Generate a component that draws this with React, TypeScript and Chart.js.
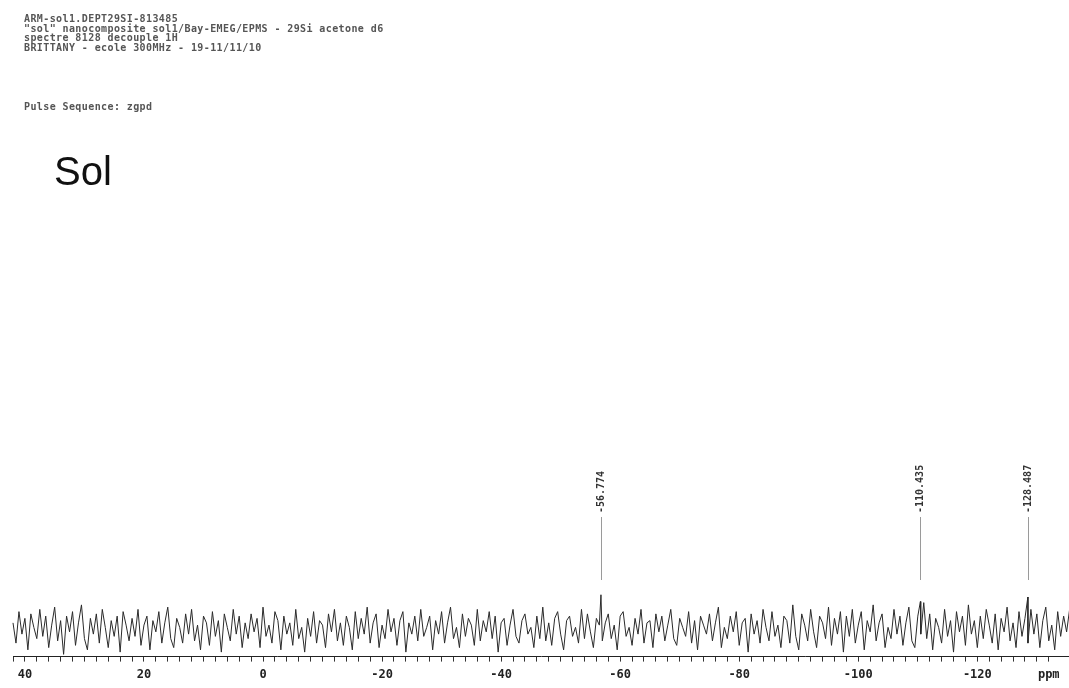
import React, { useEffect, useRef } from "react";
import { Chart, registerables } from "chart.js";

Chart.register(...registerables);

// Spectrum sampling (ppm axis, reversed as in NMR)
const SPECTRUM_START_PPM = 42;
const SPECTRUM_STEP_PPM = 0.5;
const AXIS_MIN_PPM = -135.4;
const AXIS_MAX_PPM = 42;
const AXIS_STEP_PPM = 2;
const LABEL_EVERY_PPM = 20;
const UNIT_TICK_PPM = -132;
const UNIT_LABEL = "ppm";

// Baseline noise (arbitrary intensity units)
const NOISE: number[] = [
  3, -6, 8, -2, 5, -9, 7, 1, -4, 9, -3, 6, -8, 2, 10, -5, 4, -11, 6, -1,
  8, -7, 3, 11, -4, -9, 5, -2, 7, -6, 9, 1, -8, 4, -3, 6, -10, 8, 2, -5,
  5, -3, 9, -7, 2, 6, -9, 4, -1, 8, -6, 3, 10, -4, -8, 5, 1, -6, 7, -2,
  9, -5, 2, -9, 6, 3, -7, 8, -3, 4, -10, 7, 1, -5, 9, -2, 6, -8, 3, -4,
  7, -1, 5, -8, 10, -3, 2, -6, 8, 4, -9, 6, -2, 3, -7, 9, -4, 1, -10, 5,
  -3, 8, -6, 4, 2, -8, 7, -1, 9, -5, 3, -7, 6, 1, -9, 8, -4, 5, -2, 10,
  -6, 3, 7, -8, 2, -4, 9, -1, 5, -7, 4, 8, -10, 3, -2, 6, -5, 9, -3, 1,
  6, -9, 4, -2, 8, -6, 3, 10, -4, 1, -8, 7, -3, 5, 2, -7, 9, -5, 4, -1,
  8, -4, 6, -10, 3, 5, -7, 2, 9, -3, -6, 4, 7, -2, 1, -8, 6, -4, 10, -5,
  3, -7, 5, 8, -2, -9, 4, 6, -3, 1, -6, 9, -4, 7, -1, -8, 5, 2, -5, 3,
  7, -4, 2, -9, 6, 8, -3, 1, -7, 5, -2, 9, -6, 3, 4, -8, 7, -1, 6, -5,
  2, 9, -4, -7, 5, 1, -3, 8, -6, 4, -9, 6, 2, -2, 7, -5, 3, 10, -8, 1,
  -4, 6, -1, 8, -7, 3, 5, -10, 7, -2, 4, -6, 9, 1, -5, 8, -3, 2, -8, 6,
  4, -6, 11, -3, -9, 7, 2, -5, 9, -1, -8, 6, 3, -4, 10, -7, 5, -2, 8, -10,
  6, -3, 9, -6, 2, 8, -9, 4, -1, 11, -5, 3, 7, -8, 1, -4, 9, -2, 6, -7,
  3, 10, -5, -8, 6, -2, 12, -4, 7, -9, 5, 1, -6, 9, -3, 4, -10, 8, -1, 6,
  -7, 11, -2, 4, -8, 6, -4, 9, 2, -6, 7, -9, 5, -1, 10, -5, 3, -8, 8, -3,
  5, -6, 9, -2, 7, -8, 4, 10, -5, 2, -9, 8, -3, 6, -1, 9, -7, 3, -4, 7,
];

// Picked peaks
const PEAK_PPM = [-56.774, -110.435, -128.487];
const PEAK_HEIGHT = [15.5, 12.5, 14.5];
const PEAK_LABELS = ["-56.774", "-110.435", "-128.487"];

const HEADER_LINES = [
  "ARM-sol1.DEPT29SI-813485",
  "\"sol\" nanocomposite sol1/Bay-EMEG/EPMS - 29Si acetone d6",
  "spectre 8128 decouple 1H",
  "BRITTANY - ecole 300MHz - 19-11/11/10",
];
const PULSE_LINE = "Pulse Sequence: zgpd";
const SAMPLE_TITLE = "Sol";

const peakLabelPlugin = {
  id: "peakLabels",
  afterDatasetsDraw(chart: any) {
    const { ctx } = chart;
    const x = chart.scales.x;
    ctx.save();
    PEAK_PPM.forEach((p, i) => {
      const px = Math.round(x.getPixelForValue(p)) + 0.5;
      ctx.strokeStyle = "#9a9a9a";
      ctx.lineWidth = 1;
      ctx.beginPath();
      ctx.moveTo(px, 517);
      ctx.lineTo(px, 580);
      ctx.stroke();
      ctx.save();
      ctx.translate(px, 513);
      ctx.rotate(-Math.PI / 2);
      ctx.font = "bold 10px 'DejaVu Sans Mono'";
      ctx.fillStyle = "#333";
      ctx.textAlign = "left";
      ctx.textBaseline = "middle";
      ctx.fillText(PEAK_LABELS[i], 0, 0);
      ctx.restore();
    });
    ctx.restore();
  },
};

export default function App() {
  const canvasRef = useRef<HTMLCanvasElement | null>(null);

  useEffect(() => {
    if (!canvasRef.current) return;
    const pts: { x: number; y: number }[] = NOISE.map((v, i) => ({
      x: SPECTRUM_START_PPM - i * SPECTRUM_STEP_PPM,
      y: v,
    }));
    PEAK_PPM.forEach((p, i) => pts.push({ x: p, y: PEAK_HEIGHT[i] }));
    pts.sort((a, b) => b.x - a.x);

    const chart = new Chart(canvasRef.current, {
      type: "line",
      data: {
        datasets: [
          {
            data: pts,
            borderColor: "#2a2a2a",
            borderWidth: 1,
            pointRadius: 0,
            tension: 0,
            fill: false,
            clip: false as any,
          },
        ],
      },
      options: {
        animation: false,
        responsive: false,
        devicePixelRatio: 1,
        events: [],
        layout: { padding: { left: 13, right: 0, top: 0, bottom: 0 } },
        plugins: { legend: { display: false }, tooltip: { enabled: false } },
        scales: {
          x: {
            type: "linear",
            reverse: true,
            min: AXIS_MIN_PPM,
            max: AXIS_MAX_PPM,
            border: { display: true, color: "#222", width: 1 },
            grid: {
              drawOnChartArea: false,
              drawTicks: true,
              tickLength: 5,
              color: "#333",
            },
            ticks: {
              stepSize: AXIS_STEP_PPM,
              autoSkip: false,
              maxRotation: 0,
              minRotation: 0,
              padding: 0,
              color: "#222",
              font: { family: "'DejaVu Sans Mono'", size: 12, weight: "bold", lineHeight: 2.2 },
              callback: (v: any) => {
                const n = Number(v);
                if (Math.abs(n - UNIT_TICK_PPM) < 1e-6) return UNIT_LABEL;
                if (Math.abs(n % LABEL_EVERY_PPM) < 1e-6) return String(Math.round(n));
                return "";
              },
            },
          },
          y: {
            display: false,
            min: -12,
            max: 280,
          },
        },
      },
      plugins: [peakLabelPlugin],
    });
    return () => chart.destroy();
  }, []);

  const headerStyle: React.CSSProperties = {
    position: "absolute",
    left: 24,
    fontFamily: "'DejaVu Sans Mono', monospace",
    fontSize: 10,
    fontWeight: "bold",
    letterSpacing: 0.4,
    color: "#555",
    whiteSpace: "pre",
    lineHeight: "9.5px",
  };

  return (
    <div style={{ position: "absolute", left: 0, top: 0, width: 1069, height: 688, background: "#fff" }}>
      <canvas ref={canvasRef} width={1069} height={688} style={{ position: "absolute", left: 0, top: 0 }} />
      <div style={{ ...headerStyle, top: 14 }}>
        {HEADER_LINES.map((l, i) => (
          <div key={i}>{l}</div>
        ))}
      </div>
      <div style={{ ...headerStyle, top: 102 }}>{PULSE_LINE}</div>
      <div
        style={{
          position: "absolute",
          left: 54,
          top: 148,
          fontFamily: "'Liberation Sans', Arial, sans-serif",
          fontSize: 40,
          lineHeight: "46px",
          color: "#111",
        }}
      >
        {SAMPLE_TITLE}
      </div>
    </div>
  );
}
